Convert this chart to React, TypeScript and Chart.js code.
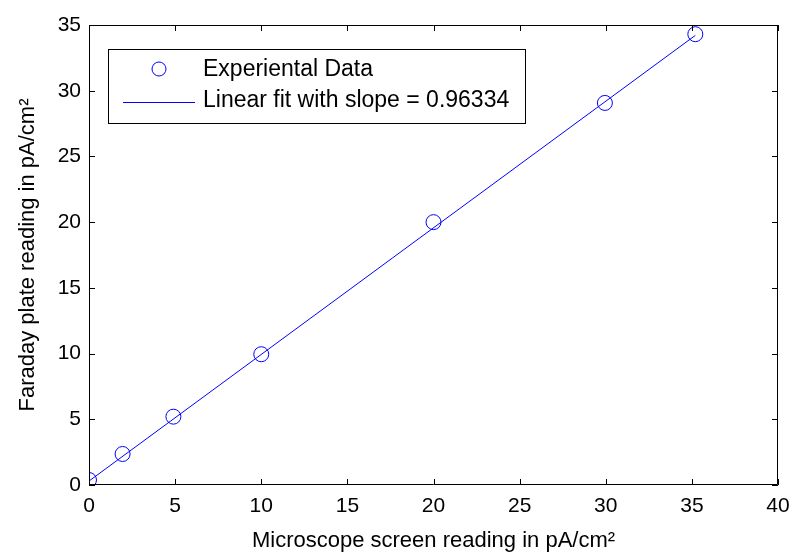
import React, { useEffect, useRef } from "react";
import { Chart, registerables } from "chart.js";

Chart.register(...registerables);

const dataX = [0, 1.95, 4.9, 10, 20, 29.95, 35.2];
const dataY = [0.38, 2.36, 5.2, 9.95, 20.0, 29.07, 34.3];
const fitX = [0, 35.2];
const fitY = [0.3, 34.21];
const xTicks = [0, 5, 10, 15, 20, 25, 30, 35, 40];
const yTicks = [0, 5, 10, 15, 20, 25, 30, 35];
const legendLabels = ["Experiental Data", "Linear fit with slope = 0.96334"];
const xTitle = "Microscope screen reading in pA/cm²";
const yTitle = "Faraday plate reading in pA/cm²";

const FONT = "'Liberation Sans', Arial, Helvetica, sans-serif";
const BLUE = "#0000ff";
const FS = 21;
const TFS = 22;

const boxPlugin = {
  id: "matlabBox",
  afterDraw(chart: any) {
    const { ctx, chartArea } = chart;
    const { left, right, top, bottom } = chartArea;
    const xs = chart.scales.x;
    const ys = chart.scales.y;
    ctx.save();
    ctx.strokeStyle = "#000";
    ctx.lineWidth = 1;
    ctx.beginPath();
    ctx.rect(left + 0.5, top + 0.5, right - left - 1, bottom - top - 1);
    ctx.stroke();
    const tl = 6;
    ctx.beginPath();
    xTicks.forEach((v) => {
      const px = Math.round(xs.getPixelForValue(v)) + 0.5;
      ctx.moveTo(px, bottom);
      ctx.lineTo(px, bottom - tl);
      ctx.moveTo(px, top);
      ctx.lineTo(px, top + tl);
    });
    yTicks.forEach((v) => {
      const py = Math.round(ys.getPixelForValue(v)) + 0.5;
      ctx.moveTo(left, py);
      ctx.lineTo(left + tl, py);
      ctx.moveTo(right, py);
      ctx.lineTo(right - tl, py);
    });
    ctx.stroke();

    // legend
    const lx = 108, ly = 49, lw = 417, lh = 74;
    ctx.fillStyle = "#fff";
    ctx.fillRect(lx, ly, lw, lh);
    ctx.strokeStyle = "#000";
    ctx.strokeRect(lx + 0.5, ly + 0.5, lw, lh);
    ctx.strokeStyle = BLUE;
    ctx.lineWidth = 1;
    ctx.beginPath();
    ctx.arc(159, 69, 7, 0, Math.PI * 2);
    ctx.stroke();
    ctx.beginPath();
    ctx.moveTo(123, 102.5);
    ctx.lineTo(195, 102.5);
    ctx.stroke();
    ctx.fillStyle = "#000";
    ctx.font = `23px ${FONT}`;
    ctx.textBaseline = "middle";
    ctx.textAlign = "left";
    ctx.fillText(legendLabels[0], 203, 70);
    ctx.fillText(legendLabels[1], 203, 101);
    ctx.restore();
  },
};

export default function App() {
  const ref = useRef<HTMLCanvasElement | null>(null);
  useEffect(() => {
    document.body.style.margin = "0";
    const canvas = ref.current!;
    const chart = new Chart(canvas, {
      type: "scatter",
      data: {
        datasets: [
          {
            label: legendLabels[0],
            data: dataX.map((x, i) => ({ x, y: dataY[i] })),
            showLine: false,
            pointStyle: "circle",
            pointRadius: 7.5,
            pointBorderColor: BLUE,
            pointBackgroundColor: "rgba(0,0,0,0)",
            pointBorderWidth: 1,
            borderColor: BLUE,
          },
          {
            label: legendLabels[1],
            data: fitX.map((x, i) => ({ x, y: fitY[i] })),
            showLine: true,
            pointRadius: 0,
            borderColor: BLUE,
            borderWidth: 1,
          },
        ],
      },
      options: {
        animation: false,
        responsive: false,
        layout: { padding: { left: 0, top: 25, right: 16, bottom: 0 } },
        plugins: { legend: { display: false }, tooltip: { enabled: false } },
        scales: {
          x: {
            type: "linear",
            min: 0,
            max: 40,
            afterBuildTicks: (s: any) => {
              s.ticks = xTicks.map((v) => ({ value: v }));
            },
            afterFit: (s: any) => {
              s.height = 69;
              s.paddingLeft = 0;
              s.paddingRight = 0;
            },
            grid: { display: false, drawTicks: false },
            border: { display: false },
            ticks: {
              color: "#000",
              font: { family: FONT, size: FS },
              padding: 9,
              maxRotation: 0,
            },
            title: {
              display: true,
              text: xTitle,
              color: "#000",
              font: { family: FONT, size: TFS },
              padding: { top: 4, bottom: 0 },
            },
          },
          y: {
            type: "linear",
            min: 0,
            max: 35,
            afterBuildTicks: (s: any) => {
              s.ticks = yTicks.map((v) => ({ value: v }));
            },
            afterFit: (s: any) => {
              s.width = 89;
              s.paddingTop = 0;
              s.paddingBottom = 0;
            },
            grid: { display: false, drawTicks: false },
            border: { display: false },
            ticks: {
              color: "#000",
              font: { family: FONT, size: FS },
              padding: 8,
            },
            title: {
              display: true,
              text: yTitle,
              color: "#000",
              font: { family: FONT, size: TFS },
              padding: { top: 15, bottom: 10 },
            },
          },
        },
      },
      plugins: [boxPlugin],
    });
    return () => chart.destroy();
  }, []);
  return (
    <div style={{ position: "absolute", left: 0, top: 0, width: 794, height: 554, background: "#fff" }}>
      <canvas ref={ref} width={794} height={554} style={{ display: "block" }} />
    </div>
  );
}
